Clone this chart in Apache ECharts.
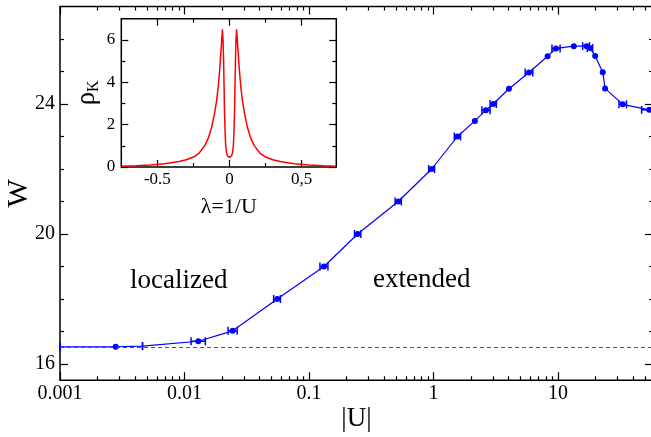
<!doctype html>
<html lang="en">
  <head>
    <meta charset="UTF-8" />
    <title>W vs |U|</title>
    <style>
      html, body { margin: 0; background: #fff; }
      #chart { width: 651px; height: 437px; }
    </style>
  </head>
  <body>
    <div id="chart"></div>
    <script src="https://cdn.jsdelivr.net/npm/echarts@6.0.0/dist/echarts.min.js"></script>
    <script>
      // main curve: W against |U|
      const U = [0.001, 0.0028, 0.0046, 0.0129, 0.0244, 0.0556, 0.132, 0.246, 0.521, 0.967, 1.56, 2.15, 2.64, 3.02, 4.04, 5.85, 8.26, 9.64, 13.4, 17.0, 18.1, 19.9, 22.9, 23.9, 33.1, 54.1];
      const W = [16.53, 16.53, 16.55, 16.7, 17.02, 18.0, 19.0, 20.0, 21.0, 22.0, 23.0, 23.48, 23.81, 24.0, 24.47, 24.97, 25.47, 25.71, 25.78, 25.78, 25.72, 25.48, 24.98, 24.48, 23.99, 23.82];
      // horizontal error bars (null = none drawn)
      const ULow = [0.001, null, 0.0046, 0.0113, 0.0224, 0.052, 0.1225, 0.232, 0.492, 0.915, 1.47, null, 2.45, 2.85, null, 5.45, null, 8.95, null, 15.8, 17.2, null, null, null, 30.9, 47.0];
      const UHigh = [0.001, null, 0.0046, 0.0147, 0.0265, 0.059, 0.142, 0.261, 0.552, 1.02, 1.65, null, 2.85, 3.2, null, 6.28, null, 10.4, null, 17.9, 19.0, null, null, null, 35.5, 62];
      const noMarker = [0, 2];
      const baselineW = 16.53;

      // inset: rho_K against lambda = 1/U
      const lambda = [-0.75, -0.65, -0.55, -0.45, -0.35, -0.3, -0.25, -0.21, -0.17, -0.145, -0.125, -0.105, -0.09, -0.078, -0.068, -0.06, -0.053, -0.049, -0.045, -0.041, -0.038, -0.035, -0.031, -0.027, -0.021, -0.014, -0.007,
        0,
        0.007, 0.014, 0.021, 0.027, 0.031, 0.035, 0.038, 0.041, 0.045, 0.049, 0.053, 0.06, 0.068, 0.078, 0.09, 0.105, 0.125, 0.145, 0.17, 0.21, 0.25, 0.3, 0.35, 0.45, 0.55, 0.65, 0.74];
      const rhoK = [0.04, 0.06, 0.09, 0.15, 0.26, 0.34, 0.47, 0.66, 1.02, 1.4, 1.85, 2.5, 3.1, 3.8, 4.6, 5.4, 6.1, 6.5, 6.0, 5.0, 3.9, 2.7, 1.7, 1.05, 0.68, 0.52, 0.47,
        0.46,
        0.47, 0.52, 0.68, 1.05, 1.7, 2.7, 3.9, 5.0, 6.0, 6.5, 6.1, 5.4, 4.6, 3.8, 3.1, 2.5, 1.85, 1.4, 1.02, 0.66, 0.47, 0.34, 0.26, 0.15, 0.09, 0.06, 0.04];

      // ticks
      const uMin = 0.001, uMax = 58;
      const wMajor = [16, 20, 24];
      const wMinor = [17, 18, 19, 21, 22, 23, 25, 26];
      const lamMajor = [-0.5, 0, 0.5];
      const lamLabels = ["-0.5", "0", "0,5"];
      const lamMinor = [-0.25, 0.25];
      const rhoMajor = [0, 2, 4, 6];
      const rhoMinor = [1, 3, 5];

      // minor decade ticks, placed on a linear axis that runs over log10(U)
      const uMinorLog = [];
      for (let k = -3; k <= 1; k++) {
        for (let m = 2; m <= 9; m++) {
          const v = m * Math.pow(10, k);
          if (v < uMax) uMinorLog.push(Math.log10(v));
        }
      }

      const serif = "Liberation Serif";
      const tickStyle = { color: "#000", width: 1.2 };

      function tickAxis(grid, pos, min, max, ticks, len) {
        return {
          type: "value",
          gridIndex: grid,
          position: pos,
          min: min,
          max: max,
          axisLine: { show: false, onZero: false },
          splitLine: { show: false },
          axisLabel: { show: false },
          axisTick: { inside: true, length: len, customValues: ticks, lineStyle: tickStyle },
        };
      }

      const xAxes = [];
      // 0: main log axis carrying the data and labels
      xAxes.push({
        type: "log",
        logBase: 10,
        gridIndex: 0,
        position: "bottom",
        min: uMin,
        max: uMax,
        axisLine: { show: false, onZero: false },
        splitLine: { show: false },
        minorTick: { show: false },
        axisTick: { inside: true, length: 8, lineStyle: tickStyle },
        axisLabel: {
          color: "#000",
          fontFamily: serif,
          fontSize: 20,
          margin: 3,
          showMaxLabel: false,
          formatter: (v) => String(+v.toPrecision(3)),
        },
        name: "|U|",
        nameLocation: "middle",
        nameGap: 25,
        nameMoveOverlap: false,
        nameTextStyle: { color: "#000", fontFamily: serif, fontSize: 27 },
      });
      // 1: top mirror
      xAxes.push({
        type: "log",
        logBase: 10,
        gridIndex: 0,
        position: "top",
        min: uMin,
        max: uMax,
        axisLine: { show: false, onZero: false },
        splitLine: { show: false },
        minorTick: { show: false },
        axisLabel: { show: false },
        axisTick: { inside: true, length: 8, lineStyle: tickStyle },
      });
      // 2,3: minor decade ticks
      xAxes.push(tickAxis(0, "bottom", Math.log10(uMin), Math.log10(uMax), uMinorLog, 4));
      xAxes.push(tickAxis(0, "top", Math.log10(uMin), Math.log10(uMax), uMinorLog, 4));
      // 4: inset x
      const insetX = tickAxis(1, "bottom", -0.75, 0.74, lamMajor, 7);
      insetX.axisLabel = {
        show: true,
        customValues: lamMajor,
        color: "#000",
        fontFamily: serif,
        fontSize: 17,
        margin: 4,
        formatter: (v) => lamLabels[lamMajor.indexOf(+v)] ?? String(v),
      };
      insetX.name = "λ=1/U";
      insetX.nameLocation = "middle";
      insetX.nameGap = 29;
      insetX.nameMoveOverlap = false;
      insetX.nameTextStyle = { color: "#000", fontFamily: serif, fontSize: 22 };
      xAxes.push(insetX);
      xAxes.push(tickAxis(1, "bottom", -0.75, 0.74, lamMinor, 4));
      xAxes.push(tickAxis(1, "top", -0.75, 0.74, lamMajor, 7));
      xAxes.push(tickAxis(1, "top", -0.75, 0.74, lamMinor, 4));

      const yAxes = [];
      // 0: main W axis
      const mainY = tickAxis(0, "left", 15.5, 27, wMajor, 8);
      mainY.axisLabel = {
        show: true,
        customValues: wMajor,
        color: "#000",
        fontFamily: serif,
        fontSize: 20,
        margin: 5,
      };
      mainY.name = "W";
      mainY.nameLocation = "middle";
      mainY.nameRotate = 90;
      mainY.nameGap = 26;
      mainY.nameMoveOverlap = false;
      mainY.nameTextStyle = { color: "#000", fontFamily: serif, fontSize: 30 };
      yAxes.push(mainY);
      yAxes.push(tickAxis(0, "left", 15.5, 27, wMinor, 4));
      yAxes.push(tickAxis(0, "right", 15.5, 27, wMajor, 8));
      yAxes.push(tickAxis(0, "right", 15.5, 27, wMinor, 4));
      // 4: inset rho axis
      const insetY = tickAxis(1, "left", 0, 7, rhoMajor, 7);
      insetY.axisLabel = {
        show: true,
        customValues: rhoMajor,
        color: "#000",
        fontFamily: serif,
        fontSize: 17,
        margin: 6,
      };
      insetY.name = "{a|ρ}{b|K}";
      insetY.nameLocation = "middle";
      insetY.nameRotate = 90;
      insetY.nameGap = 20;
      insetY.nameMoveOverlap = false;
      insetY.nameTextStyle = {
        color: "#000",
        fontFamily: serif,
        rich: {
          a: { fontFamily: serif, fontSize: 27, color: "#000" },
          b: { fontFamily: serif, fontSize: 16, color: "#000", padding: [12, 0, 0, 0] },
        },
      };
      yAxes.push(insetY);
      yAxes.push(tickAxis(1, "left", 0, 7, rhoMinor, 4));
      yAxes.push(tickAxis(1, "right", 0, 7, rhoMajor, 7));
      yAxes.push(tickAxis(1, "right", 0, 7, rhoMinor, 4));

      const mainData = U.map((u, i) =>
        noMarker.includes(i) ? { value: [u, W[i]], symbolSize: 0 } : [u, W[i]]
      );
      const errData = [];
      U.forEach((u, i) => {
        if (ULow[i] != null) errData.push([ULow[i], UHigh[i], W[i]]);
      });

      const chart = echarts.init(document.getElementById("chart"));
      chart.setOption({
        animation: false,
        backgroundColor: "#fff",
        grid: [
          { left: 60, top: 6.5, width: 593, height: 373.75, outerBoundsMode: "none", containLabel: false, show: true, borderColor: "#000", borderWidth: 1.5, backgroundColor: "transparent" },
          { left: 121.3, top: 18.7, width: 215, height: 148.3, outerBoundsMode: "none", containLabel: false, show: true, borderColor: "#000", borderWidth: 1.5, backgroundColor: "#fff" },
        ],
        xAxis: xAxes,
        yAxis: yAxes,
        graphic: [
          { type: "text", x: 130, y: 281, style: { text: "localized", fontFamily: serif, fontSize: 27, fill: "#000", textVerticalAlign: "middle" } },
          { type: "text", x: 373, y: 280, style: { text: "extended", fontFamily: serif, fontSize: 27, fill: "#000", textVerticalAlign: "middle" } },
        ],
        series: [
          {
            type: "line",
            xAxisIndex: 0,
            yAxisIndex: 0,
            data: mainData,
            symbol: "circle",
            symbolSize: 6,
            showAllSymbol: true,
            itemStyle: { color: "#0000ff" },
            lineStyle: { color: "#0000ff", width: 1.2 },
            z: 3,
            markLine: {
              silent: true,
              symbol: "none",
              label: { show: false },
              lineStyle: { color: "#555", width: 1, type: [4, 3] },
              data: [{ yAxis: baselineW }],
            },
          },
          {
            type: "custom",
            xAxisIndex: 0,
            yAxisIndex: 0,
            data: errData,
            encode: { x: [0, 1], y: 2 },
            z: 4,
            renderItem: (params, api) => {
              const y = api.value(2);
              const a = api.coord([api.value(0), y]);
              const b = api.coord([api.value(1), y]);
              const style = { stroke: "#0000ff", lineWidth: 1.5 };
              const h = 4;
              return {
                type: "group",
                children: [
                  { type: "line", shape: { x1: a[0], y1: a[1], x2: b[0], y2: b[1] }, style: style },
                  { type: "line", shape: { x1: a[0], y1: a[1] - h, x2: a[0], y2: a[1] + h }, style: style },
                  { type: "line", shape: { x1: b[0], y1: b[1] - h, x2: b[0], y2: b[1] + h }, style: style },
                ],
              };
            },
          },
          {
            type: "line",
            xAxisIndex: 4,
            yAxisIndex: 4,
            data: lambda.map((l, i) => [l, rhoK[i]]),
            showSymbol: false,
            lineStyle: { color: "#ff0000", width: 1.5 },
            itemStyle: { color: "#ff0000" },
            z: 5,
          },
        ],
      });
    </script>
  </body>
</html>
